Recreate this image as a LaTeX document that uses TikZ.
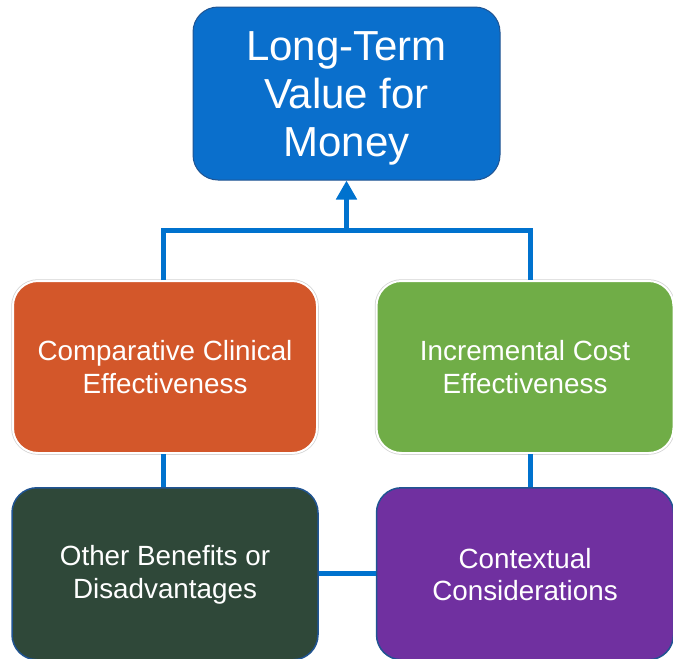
\documentclass[tikz,border=0pt]{standalone}
\usepackage{fontspec}
\setmainfont{Liberation Sans}
\usetikzlibrary{arrows.meta, positioning}

\definecolor{valblue}{RGB}{10,111,204}
\definecolor{linkblue}{RGB}{0,114,206}
\definecolor{edgeblue}{RGB}{32,84,146}
\definecolor{cceorange}{RGB}{211,87,42}
\definecolor{icegreen}{RGB}{112,173,71}
\definecolor{obddark}{RGB}{47,72,57}
\definecolor{ctxpurple}{RGB}{112,48,160}

\begin{document}
\begin{tikzpicture}[
    x=1pt, y=-1pt,
    node distance=33pt,
    goal/.style={draw=edgeblue, line width=1pt, rounded corners=25pt, fill=valblue, text=white,
        minimum width=307pt, minimum height=173pt, inner sep=0pt, align=center,
        font=\fontsize{42}{48}\selectfont},
    pillar/.style={preaction={draw=gray!35, line width=3.5pt}, draw=white, line width=2pt,
        rounded corners=25pt, text=white, minimum height=172pt, inner sep=0pt, align=center,
        font=\fontsize{27.8}{32.5}\selectfont},
    factor/.style={draw=edgeblue, line width=1.5pt, rounded corners=25pt, text=white,
        minimum height=172pt, inner sep=0pt, align=center,
        font=\fontsize{27.8}{32.5}\selectfont},
    link/.style={draw=linkblue, line width=5pt},
    arrow/.style={link, -{Triangle[length=19pt, width=20pt]}}
]
\useasboundingbox (0,0) rectangle (673,659);

\node[goal] (value) at (346.5,93.5) {\rule{0pt}{39pt}Long-Term\\Value for\\Money};
\node[pillar, fill=cceorange, minimum width=304pt] (cce) at (165,367) {Comparative Clinical\\Effectiveness};
\node[factor, fill=obddark, minimum width=306pt, below=33pt of cce] (obd) {\rule{0pt}{22pt}Other Benefits or\\Disadvantages};
\node[factor, fill=ctxpurple, minimum width=297pt, right=57pt of obd] (ctx) {\rule{0pt}{22pt}Contextual\\Considerations};
\node[pillar, fill=icegreen, minimum width=297pt, above=33pt of ctx] (ice) {Incremental Cost\\Effectiveness};

\coordinate (join) at (346.5,230);

% connectors
\draw[link] ([xshift=-2pt]cce.north) |- (join) -| ([xshift=5pt]ice.north);
\draw[arrow] (join) -- (value.south);
\draw[link] ([xshift=-2pt]cce.south) -- ([xshift=-2pt]obd.north);
\draw[link] ([xshift=5pt]ice.south) -- ([xshift=5pt]ctx.north);
\draw[link] (obd.east) -- (ctx.west);
\end{tikzpicture}
\end{document}
